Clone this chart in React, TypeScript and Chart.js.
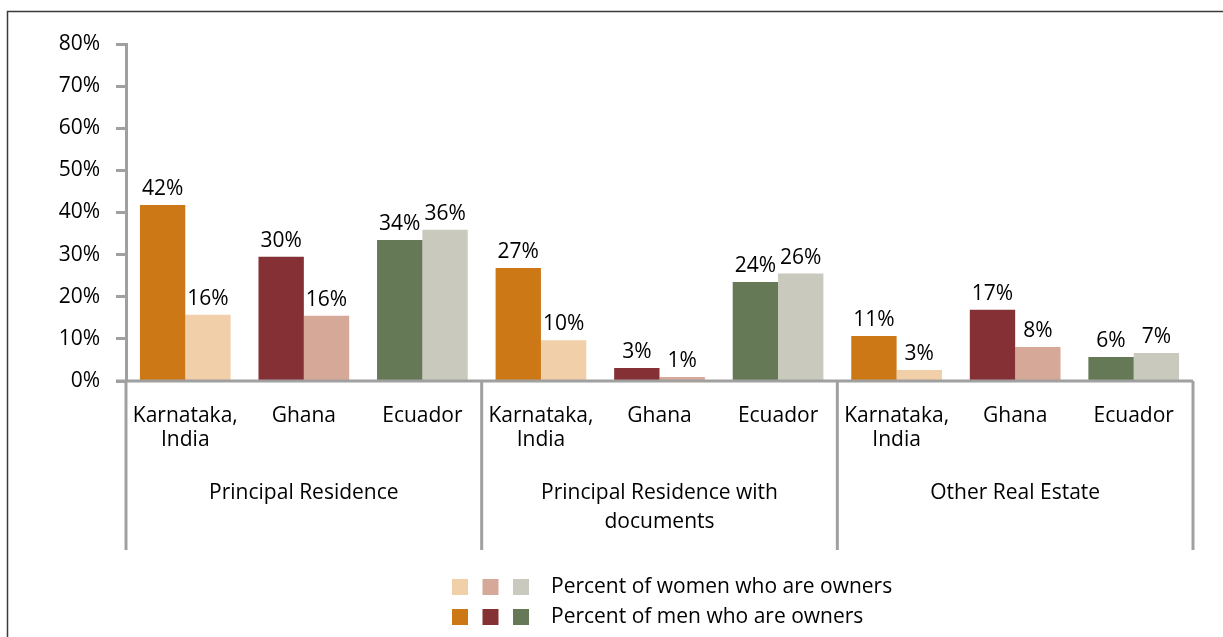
import React, { useEffect, useRef } from "react";
import { Chart, registerables } from "chart.js";

Chart.register(...registerables);

const categories: string[][] = [
  ["Karnataka,", "India"], ["Ghana"], ["Ecuador"],
  ["Karnataka,", "India"], ["Ghana"], ["Ecuador"],
  ["Karnataka,", "India"], ["Ghana"], ["Ecuador"],
];
const groupLabels: string[][] = [
  ["Principal Residence"],
  ["Principal Residence with", "documents"],
  ["Other Real Estate"],
];
const menValues = [41.8, 29.5, 33.5, 26.8, 3.1, 23.5, 10.7, 16.9, 5.7];
const womenValues = [15.7, 15.5, 35.9, 9.7, 0.95, 25.5, 2.6, 8.1, 6.65];
const yTicks = [0, 10, 20, 30, 40, 50, 60, 70, 80];
const menColors = ["#CC7816", "#843035", "#667957"];
const womenColors = ["#F0CFA9", "#D5A898", "#C9CABD"];
const legendLabels = ["Percent of women who are owners", "Percent of men who are owners"];

const FONT = "'Open Sans', sans-serif";
const FS = 21;
const AXIS = "#A0A0A0";

const decorPlugin = {
  id: "decor",
  afterDraw(chart: any) {
    const ctx = chart.ctx as CanvasRenderingContext2D;
    const area = chart.chartArea;
    const x = chart.scales.x;
    ctx.save();
    // outer frame
    ctx.strokeStyle = "#3a3a3a";
    ctx.lineWidth = 1.5;
    ctx.beginPath();
    ctx.moveTo(7.5, 637);
    ctx.lineTo(7.5, 11.5);
    ctx.lineTo(1223, 11.5);
    ctx.stroke();

    // x axis line
    ctx.strokeStyle = AXIS;
    ctx.lineWidth = 3;
    ctx.beginPath();
    ctx.moveTo(area.left - 10, area.bottom);
    ctx.lineTo(area.right, area.bottom);
    ctx.stroke();

    // group separators
    const step = (area.right - area.left) / categories.length;
    for (let g = 0; g <= 3; g++) {
      const px = area.left + g * 3 * step;
      ctx.beginPath();
      ctx.moveTo(px, area.bottom);
      ctx.lineTo(px, 550);
      ctx.stroke();
    }

    // group labels
    ctx.fillStyle = "#000";
    ctx.font = `${FS}px ${FONT}`;
    ctx.textAlign = "center";
    ctx.textBaseline = "middle";
    groupLabels.forEach((lines, g) => {
      const cx = (x.getPixelForValue(g * 3) + x.getPixelForValue(g * 3 + 2)) / 2;
      lines.forEach((ln, i) => ctx.fillText(ln, cx, 493 + i * 29));
    });

    // data labels
    chart.data.datasets.forEach((ds: any, di: number) => {
      const meta = chart.getDatasetMeta(di);
      meta.data.forEach((bar: any, i: number) => {
        ctx.textBaseline = "alphabetic";
        ctx.fillText(Math.round(ds.data[i]) + "%", bar.x, bar.y - 10);
      });
    });

    // legend
    const rows = [womenColors, menColors];
    rows.forEach((cols, r) => {
      const cy = 587 + r * 30;
      cols.forEach((c, k) => {
        ctx.fillStyle = c;
        ctx.fillRect(452 + k * 30.5, cy - 8, 16, 16);
      });
      ctx.fillStyle = "#000";
      ctx.textAlign = "left";
      ctx.textBaseline = "middle";
      ctx.fillText(legendLabels[r], 551, cy);
    });
    ctx.restore();
  },
};

export default function App() {
  const ref = useRef<HTMLCanvasElement>(null);
  useEffect(() => {
    document.body.style.margin = "0";
    const chart = new Chart(ref.current!, {
      type: "bar",
      data: {
        labels: categories,
        datasets: [
          {
            label: legendLabels[1],
            data: menValues,
            backgroundColor: menValues.map((_, i) => menColors[i % 3]),
            barPercentage: 1,
            categoryPercentage: 0.765,
          },
          {
            label: legendLabels[0],
            data: womenValues,
            backgroundColor: womenValues.map((_, i) => womenColors[i % 3]),
            barPercentage: 1,
            categoryPercentage: 0.765,
          },
        ],
      },
      options: {
        animation: false,
        responsive: false,
        layout: { padding: { left: 0, right: 30, top: 44, bottom: 0 } },
        plugins: { legend: { display: false }, tooltip: { enabled: false } },
        scales: {
          y: {
            min: 0,
            max: 80,
            afterBuildTicks: (s: any) => {
              s.ticks = yTicks.map((v) => ({ value: v }));
            },
            afterFit: (s: any) => {
              s.width = 126;
            },
            ticks: {
              callback: (v: any) => v + "%",
              color: "#000",
              font: { family: FONT, size: FS },
              padding: 16,
            },
            grid: {
              drawOnChartArea: false,
              drawTicks: true,
              tickLength: 10,
              tickColor: AXIS,
              tickWidth: 3,
            },
            border: { color: AXIS, width: 3 },
          },
          x: {
            afterFit: (s: any) => {
              s.height = 637 - 381;
            },
            ticks: {
              color: "#000",
              font: { family: FONT, size: FS, lineHeight: 1.15 },
              padding: 23,
              maxRotation: 0,
              autoSkip: false,
            },
            grid: { display: false, drawTicks: false },
            border: { display: false },
          },
        },
      },
      plugins: [decorPlugin],
    });
    return () => chart.destroy();
  }, []);
  return <canvas ref={ref} width={1223} height={637} style={{ display: "block" }} />;
}
